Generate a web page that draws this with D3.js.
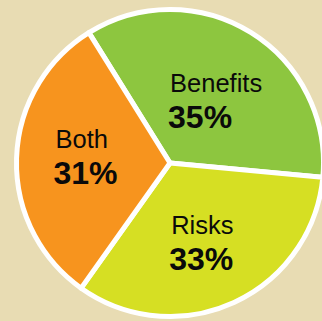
<!DOCTYPE html>
<html>
<head>
<meta charset="utf-8">
<script src="https://cdn.jsdelivr.net/npm/d3@7"></script>
<style>
  html, body { margin: 0; padding: 0; background: #E8DCB3; }
  svg { display: block; }
</style>
</head>
<body>
<svg id="chart" width="322" height="321"></svg>
<script>
const labels = ['Benefits', 'Risks', 'Both']
const values = [35, 33, 31]
const colors = ['#8DC63F', '#D6DF23', '#F7941E']

const width = 322
const height = 321
const cx = 170
const cy = 163
const outer = 153.5
const start = -31.9 * Math.PI / 180

const svg = d3.select('#chart')
svg.append('rect')
    .attr('width', width)
    .attr('height', height)
    .attr('fill', '#E8DCB3')

const g = svg.append('g')
    .attr('transform', `translate(${cx},${cy})`)

const pie = d3.pie()
    .sort(null)
    .startAngle(start)
    .endAngle(start + 2 * Math.PI)

const slices = pie(values)

const arc = d3.arc().innerRadius(0).outerRadius(outer)
const labelArc = d3.arc().innerRadius(82).outerRadius(82)

g.selectAll('path')
    .data(slices)
    .join('path')
    .attr('d', arc)
    .attr('fill', (d, i) => colors[i])
    .attr('stroke', '#fff')
    .attr('stroke-width', 5)
    .attr('stroke-linejoin', 'round')

// small hand nudges so the label blocks sit where the original put them
const nudge = [[2, 9], [-2, 6], [-1.5, -2.6]]

const lab = g.selectAll('g.lab')
    .data(slices)
    .join('g')
    .attr('class', 'lab')
    .attr('transform', (d, i) => {
        const [x, y] = labelArc.centroid(d)
        return `translate(${x + nudge[i][0]},${y + nudge[i][1]})`
    })

// two left-aligned lines centred on the anchor
lab.each(function(d, i) {
    const el = d3.select(this)
    const t1 = el.append('text')
        .attr('font-family', 'Liberation Sans, Arial, sans-serif')
        .attr('font-size', 25.5)
        .attr('fill', '#0a0a0a')
        .attr('y', -10)
        .text(labels[i])
    const t2 = el.append('text')
        .attr('font-family', 'Liberation Sans, Arial, sans-serif')
        .attr('font-size', 32)
        .attr('font-weight', 'bold')
        .attr('fill', '#0a0a0a')
        .attr('y', 26)
        .text(values[i] + '%')
    const w = Math.max(t1.node().getComputedTextLength(), t2.node().getComputedTextLength())
    t1.attr('x', -w / 2 + 1)
    t2.attr('x', -w / 2 - 1)
})
</script>
</body>
</html>
